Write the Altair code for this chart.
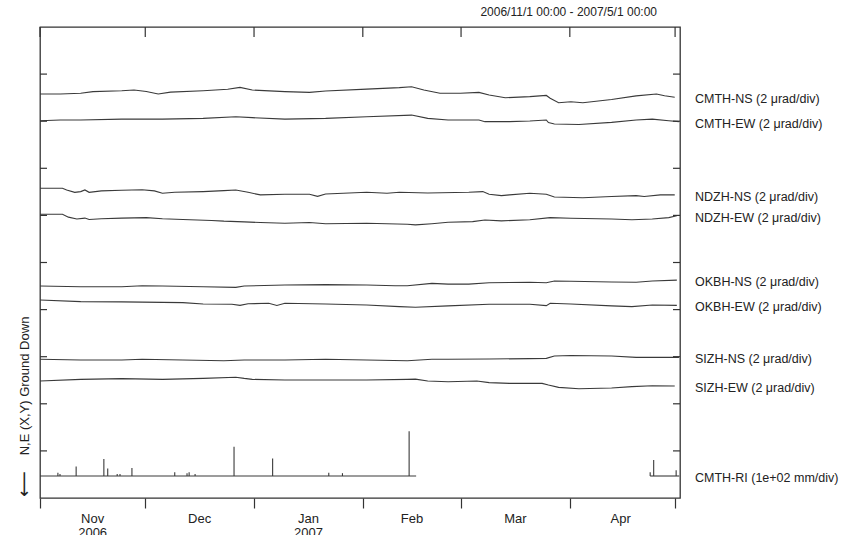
import altair as alt
import pandas as pd

# ---------------- data ----------------
title_text = "2006/11/1 00:00 - 2007/5/1 00:00"
y_title = "N,E (X,Y) Ground Down"
arrow_text = "\u27f5"

# x positions are days since 2006-11-01 00:00
month_start_day = [0, 30, 61, 92, 120, 151, 181]
month_label_day = [15, 45.5, 76.5, 106, 135.5, 165.5]
month_label_text = ["Nov\n2006", "Dec", "Jan\n2007", "Feb", "Mar", "Apr"]
x_end_day = 182.4
div_ticks = [1, 2, 3, 4, 5, 6, 7, 8, 9]

trace_names = ["CMTH-NS", "CMTH-EW", "NDZH-NS", "NDZH-EW",
               "OKBH-NS", "OKBH-EW", "SIZH-NS", "SIZH-EW"]
trace_unit = "(2 \u03bcrad/div)"
urad_per_div = 2.0
trace_base_div = [8.577, 8.01, 6.575, 6.023, 4.501, 4.204, 2.945, 2.484]

cmth_ns_day = [0, 5.8, 11.6, 15.1, 23.3, 26.8, 30.3, 33.7, 37.2, 46.5, 53.5, 57.0, 60.5, 69.8,
               76.8, 81.4, 93.1, 102.4, 105.9, 109.4, 114.0, 119.8, 125.1, 128.0, 132.6, 139.6,
               144.3, 145.4, 147.8, 151.3, 154.7, 162.9, 169.9, 175.7, 178.0, 180.9]
cmth_ns_urad = [0, 0, 0.03, 0.10, 0.14, 0.17, 0.11, 0.0, 0.08, 0.14, 0.20, 0.28, 0.17, 0.10,
                0.07, 0.13, 0.21, 0.27, 0.31, 0.17, 0.03, 0.03, 0.07, -0.04, -0.16, -0.11,
                -0.06, -0.18, -0.37, -0.33, -0.37, -0.23, -0.08, 0.0, -0.07, -0.14]

cmth_ew_day = [0, 5.8, 11.6, 23.3, 34.9, 46.5, 55.8, 60.5, 69.8, 81.4, 93.1, 105.9, 110.5, 116.3,
               125.1, 126.8, 133.8, 139.6, 144.3, 144.9, 146.6, 153.6, 162.9, 169.9, 174.5, 179.2, 182.1]
cmth_ew_urad = [0, 0.03, 0.03, 0.07, 0.07, 0.10, 0.17, 0.13, 0.07, 0.10, 0.17, 0.24, 0.10, 0.03,
                0.03, -0.04, -0.04, -0.01, 0.03, -0.08, -0.14, -0.16, -0.07, 0.03, 0.07, 0.0, -0.04]

ndzh_ns_day = [0, 6.4, 7.6, 9.9, 11.6, 12.8, 14.0, 17.5, 23.3, 29.1, 32.6, 34.9, 38.4, 46.5,
               52.4, 55.8, 59.3, 62.8, 69.8, 76.8, 79.1, 81.4, 93.1, 98.9, 102.4, 110.5, 122.2,
               126.2, 128.0, 131.5, 133.8, 139.6, 144.3, 146.6, 154.7, 162.9, 169.9, 172.2, 176.8, 180.9]
ndzh_ns_urad = [0, 0, -0.07, -0.17, -0.14, -0.07, -0.17, -0.11, -0.08, -0.06, -0.11, -0.21, -0.17, -0.14,
                -0.10, -0.07, -0.17, -0.28, -0.25, -0.25, -0.34, -0.24, -0.17, -0.21, -0.17, -0.20, -0.17,
                -0.14, -0.25, -0.31, -0.28, -0.21, -0.25, -0.37, -0.40, -0.35, -0.31, -0.35, -0.28, -0.28]

ndzh_ew_day = [0, 6.4, 8.1, 10.5, 12.8, 14.0, 17.5, 23.3, 30.3, 34.9, 40.7, 48.9, 52.4, 58.2,
               62.8, 69.8, 76.8, 81.4, 93.1, 104.7, 107.0, 111.7, 116.3, 123.3, 126.8, 131.5,
               139.6, 145.4, 151.3, 162.9, 168.7, 174.5, 179.2, 181.5]
ndzh_ew_urad = [0, 0, -0.12, -0.20, -0.16, -0.22, -0.19, -0.16, -0.14, -0.19, -0.22, -0.26, -0.29, -0.32,
                -0.35, -0.38, -0.35, -0.40, -0.38, -0.42, -0.45, -0.40, -0.34, -0.31, -0.24, -0.28,
                -0.23, -0.14, -0.17, -0.20, -0.23, -0.20, -0.14, -0.06]

okbh_ns_day = [0, 11.6, 23.3, 29.1, 34.9, 46.5, 55.8, 58.2, 69.8, 81.4, 93.1, 101.2, 104.7,
               111.7, 116.3, 122.2, 128.0, 139.6, 144.3, 146.6, 151.3, 162.9, 169.9, 174.5, 181.5]
okbh_ns_urad = [0, -0.03, -0.03, 0.01, 0, -0.03, -0.06, 0, 0.04, 0.06, 0.04, 0.01, 0.01,
                0.11, 0.08, 0.08, 0.14, 0.16, 0.14, 0.21, 0.20, 0.17, 0.16, 0.21, 0.25]

okbh_ew_day = [0, 11.6, 23.3, 40.7, 46.5, 54.7, 57.0, 59.3, 65.2, 67.5, 69.8, 81.4, 93.1,
               102.4, 107.0, 116.3, 128.0, 139.6, 144.3, 145.4, 151.3, 162.9, 168.7, 174.5, 181.5]
okbh_ew_urad = [0, -0.07, -0.08, -0.11, -0.17, -0.18, -0.23, -0.16, -0.14, -0.23, -0.14, -0.17, -0.21,
                -0.28, -0.31, -0.25, -0.18, -0.18, -0.24, -0.14, -0.17, -0.25, -0.28, -0.21, -0.23]

sizh_ns_day = [0, 11.6, 23.3, 29.1, 40.7, 52.4, 58.2, 69.8, 81.4, 93.1, 104.7, 111.7, 116.3,
               128.0, 139.6, 144.3, 146.6, 151.3, 162.9, 169.9, 174.5, 182.1]
sizh_ns_urad = [0, -0.03, -0.03, 0, -0.03, -0.06, -0.03, -0.03, 0, -0.03, -0.06, 0, 0,
                0.01, 0.03, 0.04, 0.14, 0.16, 0.14, 0.08, 0.08, 0.08]

sizh_ew_day = [0, 11.6, 23.3, 34.9, 46.5, 55.8, 58.2, 60.5, 69.8, 81.4, 93.1, 104.7, 107.0,
               110.5, 116.3, 124.5, 128.0, 133.8, 143.1, 144.9, 147.8, 153.6, 162.9, 168.7, 174.5, 180.9]
sizh_ew_urad = [0, 0.07, 0.10, 0.07, 0.11, 0.16, 0.11, 0.07, 0.04, 0.04, 0.04, 0.07, 0.08,
                0, -0.03, 0, -0.07, -0.10, -0.10, -0.17, -0.27, -0.33, -0.30, -0.24, -0.20, -0.21]

trace_days = [cmth_ns_day, cmth_ew_day, ndzh_ns_day, ndzh_ew_day,
              okbh_ns_day, okbh_ew_day, sizh_ns_day, sizh_ew_day]
trace_urad = [cmth_ns_urad, cmth_ew_urad, ndzh_ns_urad, ndzh_ew_urad,
              okbh_ns_urad, okbh_ew_urad, sizh_ns_urad, sizh_ew_urad]

rain_name = "CMTH-RI (1e+02 mm/div)"
rain_mm_per_div = 100.0
rain_base_div = 0.467
rain_day = [5.1, 5.7, 10.3, 18.2, 19.3, 22.0, 22.8, 26.2, 38.4, 41.9, 42.5, 44.2,
            55.3, 66.3, 82.3, 86.2, 105.2, 173.9, 174.9, 181.3]
rain_mm = [7, 4, 20, 36, 16, 4, 4, 17, 8, 6, 8, 4,
           62, 37, 7, 6, 95, 8, 34, 12]
rain_record_start = [0, 173.9]
rain_record_end = [107.2, 182.2]

# ---------------- tables ----------------
rows = []
label_rows = []
for name, base, days, vals in zip(trace_names, trace_base_div, trace_days, trace_urad):
    for d, v in zip(days, vals):
        rows.append({"series": name, "day": d, "div": base + v / urad_per_div})
    label_rows.append({"label": f"{name} {trace_unit}", "div": base + vals[-1] / urad_per_div})
label_rows.append({"label": rain_name, "div": rain_base_div})
trace_df = pd.DataFrame(rows)
label_df = pd.DataFrame(label_rows)

rain_df = pd.DataFrame({"day": rain_day,
                        "div": [rain_base_div] * len(rain_day),
                        "div2": [rain_base_div + m / rain_mm_per_div for m in rain_mm]})
seg_rows = []
for i, (s, e) in enumerate(zip(rain_record_start, rain_record_end)):
    seg_rows.append({"seg": i, "day": s, "div": rain_base_div})
    seg_rows.append({"seg": i, "day": e, "div": rain_base_div})
seg_df = pd.DataFrame(seg_rows)

month_df = pd.DataFrame({"day": month_label_day, "text": month_label_text})
top_df = pd.DataFrame({"day": month_start_day})
ytick_df = pd.DataFrame({"div": div_ticks})

# ---------------- chart ----------------
W, H = 640, 471
INK = "#333333"
FONT = "Liberation Sans"

xs = alt.Scale(domain=[0, x_end_day], nice=False, zero=False)
ys = alt.Scale(domain=[0, 10], nice=False, zero=False)
X = alt.X("day:Q", scale=xs,
          axis=alt.Axis(values=month_start_day, labels=False, ticks=True, tickSize=10,
                        tickWidth=1.2, tickColor=INK, domain=False, grid=False, title=None))
Y = alt.Y("div:Q", scale=ys, axis=None)

traces = alt.Chart(trace_df).mark_line(color="#3a3a3a", strokeWidth=1.1).encode(
    x=X, y=Y, detail="series:N")
rain_base = alt.Chart(seg_df).mark_line(color="#3a3a3a", strokeWidth=1.1).encode(
    x=X, y=Y, detail="seg:N")
rain_bars = alt.Chart(rain_df).mark_rule(color="#3a3a3a", strokeWidth=1.1).encode(
    x=X, y=Y, y2="div2:Q")

top_ticks = alt.Chart(top_df).mark_rule(color=INK, strokeWidth=1.2).encode(
    x=X, y=alt.value(0), y2=alt.value(10))
left_ticks = alt.Chart(ytick_df).mark_rule(color=INK, strokeWidth=1.2).encode(
    y=Y, x=alt.value(0), x2=alt.value(7))
right_ticks = alt.Chart(ytick_df).mark_rule(color=INK, strokeWidth=1.2).encode(
    y=Y, x=alt.value(W - 7), x2=alt.value(W))

labels = alt.Chart(label_df).mark_text(
    align="left", baseline="middle", dy=2, fontSize=12.5, font=FONT, color="#222222").encode(
    y=Y, x=alt.value(655), text="label:N")

months = alt.Chart(month_df).mark_text(
    align="center", baseline="top", lineBreak="\n", lineHeight=14, fontSize=13,
    font=FONT, color="#222222").encode(
    x=X, y=alt.value(H + 15), text="text:N")

title = alt.Chart(pd.DataFrame({"t": [title_text]})).mark_text(
    align="right", baseline="middle", fontSize=12, font=FONT, color="#222222").encode(
    x=alt.value(617), y=alt.value(-15), text="t:N")

ytitle = alt.Chart(pd.DataFrame({"t": [y_title]})).mark_text(
    align="center", baseline="middle", angle=270, fontSize=13, font=FONT, color="#222222").encode(
    x=alt.value(-15), y=alt.value(359), text="t:N")

arrow = alt.Chart(pd.DataFrame({"t": [arrow_text]})).mark_text(
    align="center", baseline="middle", angle=270, fontSize=18, font="DejaVu Sans", color="#222222").encode(
    x=alt.value(-15), y=alt.value(457), text="t:N")

chart = alt.layer(
    traces, rain_base, rain_bars, top_ticks, left_ticks, right_ticks,
    labels, months, title, ytitle, arrow
).properties(
    width=W, height=H,
    autosize=alt.AutoSizeParams(type="none"),
    padding={"left": 40, "top": 27, "right": 181, "bottom": 37},
    background="white",
).configure_view(stroke=INK, strokeWidth=1.3)

chart.save("out.html", embed_options={"renderer": "svg", "actions": False})
